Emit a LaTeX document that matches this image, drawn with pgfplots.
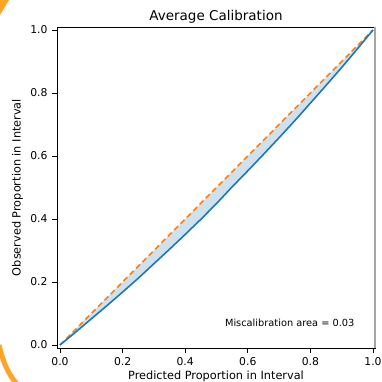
\documentclass[border=0pt]{standalone}
\usepackage{fontspec}
\setmainfont{DejaVu Sans}
\usepackage{pgfplots}
\pgfplotsset{compat=1.18}
\usepgfplotslibrary{fillbetween}
\definecolor{tabblue}{HTML}{1F77B4}
\definecolor{taborange}{HTML}{FF7F0E}
\definecolor{deco}{HTML}{FFA526}
\begin{document}
\begin{tikzpicture}[x=1pt,y=1pt]
\begin{axis}[
  at={(57pt,34pt)}, anchor=south west,
  scale only axis, width=318pt, height=321pt,
  xmin=-0.0096, xmax=1.0064, ymin=-0.0095, ymax=1.0095,
  xtick={0,0.2,0.4,0.6,0.8,1.0}, ytick={0,0.2,0.4,0.6,0.8,1.0},
  xtick pos=bottom, ytick pos=left,
  tick align=outside, major tick length=5pt,
  tick style={black, line width=0.8pt},
  axis line style={black, line width=0.8pt},
  xticklabel style={font=\fontsize{10.8}{12}\selectfont, yshift=-1pt},
  yticklabel style={font=\fontsize{10.8}{12}\selectfont, xshift=-1pt},
  xticklabel={\pgfmathprintnumber[fixed,fixed zerofill,precision=1,assume math mode=true]{\tick}},
  yticklabel={\pgfmathprintnumber[fixed,fixed zerofill,precision=1,assume math mode=true]{\tick}},
  title={Average Calibration},
  title style={font=\fontsize{13.5}{15}\selectfont, at={(axis description cs:0.5,1.0015)}, anchor=base},
  xlabel={Predicted Proportion in Interval},
  xlabel style={font=\fontsize{11.3}{13}\selectfont, at={(axis description cs:0.5,-0.0981)}, anchor=base},
  ylabel={Observed Proportion in Interval},
  ylabel style={font=\fontsize{11.3}{13}\selectfont, at={(axis description cs:-0.1242,0.5)}, anchor=center},
  clip=false,
]
\addplot[name path=ideal, taborange, line width=1.6pt, dash pattern=on 5.5pt off 3.5pt] coordinates {(0,0) (1,1)};
\addplot[name path=calib, tabblue, line width=1.6pt] coordinates {
(0,0) (0.05,0.041) (0.1,0.083) (0.15,0.125) (0.2,0.168) (0.25,0.212) (0.3,0.258)
(0.35,0.304) (0.4,0.351) (0.45,0.399) (0.5,0.449) (0.55,0.502) (0.6,0.553)
(0.65,0.605) (0.7,0.658) (0.75,0.712) (0.8,0.768) (0.85,0.824) (0.9,0.881)
(0.95,0.94) (1,1)};
\addplot[fill=tabblue, fill opacity=0.22, draw=none] fill between[of=ideal and calib];
\node[anchor=base east, font=\fontsize{9.8}{11}\selectfont] at (axis cs:0.952,0.058) {Miscalibration area = 0.03};
\draw[gray!70, line width=1.2pt] (rel axis cs:1,0) -- (rel axis cs:1,1);
\end{axis}
\draw[deco, line width=5pt] (-1,37) .. controls (3,20) and (8,8) .. (17,-2);
\fill[deco] (0,382) -- (9,382) -- (0,367) -- cycle;
\pgfresetboundingbox
\path[use as bounding box] (0,0) rectangle (381,382);
\end{tikzpicture}
\end{document}
